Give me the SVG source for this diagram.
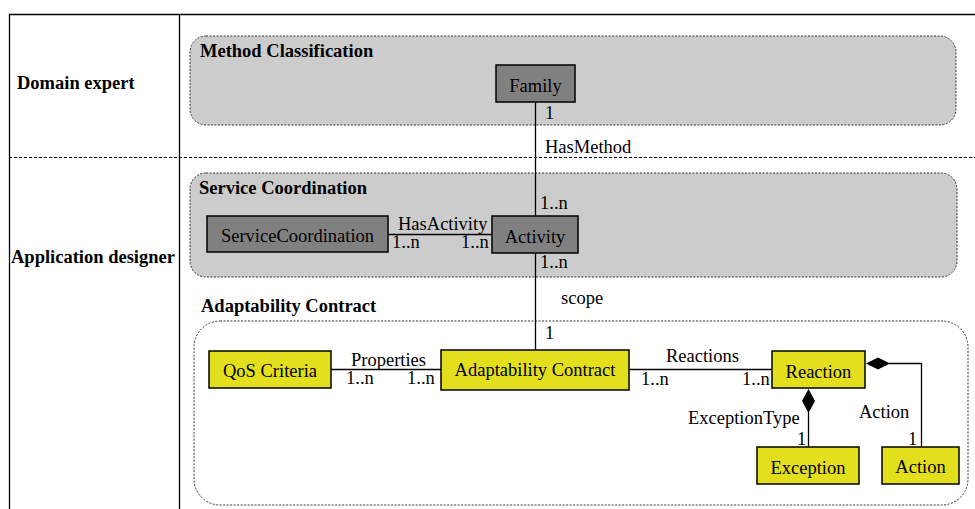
<svg xmlns="http://www.w3.org/2000/svg" width="975" height="509" viewBox="0 0 975 509" font-family="'Liberation Serif', 'DejaVu Serif', serif">
<style>
text{font-family:'Liberation Serif','DejaVu Serif',serif;fill:#000}
.t{font-size:18.5px}
.b{font-size:18.5px;font-weight:bold}
.n{font-size:18.5px;text-anchor:middle}
.pkg{fill:#cccccc;stroke:#333;stroke-width:1;stroke-dasharray:2,1.5}
.pkgw{fill:#fff;stroke:#333;stroke-width:1;stroke-dasharray:2,1.5}
.g{fill:#808080;stroke:#000;stroke-width:1.5}
.y{fill:#e3df1c;stroke:#000;stroke-width:1.5}
.ln{stroke:#000;stroke-width:1.3;fill:none}
</style>
<rect width="975" height="509" fill="#fff"/>
<g id="frame">
<line x1="9" y1="14.5" x2="975" y2="14.5" stroke="#000" stroke-width="1.3"/>
<line x1="9.5" y1="14" x2="9.5" y2="509" stroke="#000" stroke-width="1.3"/>
<line x1="179.5" y1="14" x2="179.5" y2="509" stroke="#000" stroke-width="1.3"/>
<line x1="9" y1="157.5" x2="975" y2="157.5" stroke="#000" stroke-width="1" stroke-dasharray="3,2"/>
<text class="b" x="17" y="89">Domain expert</text>
<text class="b" x="11" y="263">Application designer</text>
</g>
<g id="method-classification">
<rect class="pkg" x="190" y="36" width="766" height="89" rx="16"/>
<text class="b" x="200" y="57">Method Classification</text>
</g>
<g id="service-coordination">
<rect class="pkg" x="190" y="173" width="767" height="104" rx="16"/>
<text class="b" x="199" y="194">Service Coordination</text>
</g>
<g id="adaptability-contract-pkg">
<text class="b" x="201" y="312">Adaptability Contract</text>
<rect class="pkgw" x="194" y="321" width="774" height="184" rx="26"/>
</g>
<g id="connectors">
<line class="ln" x1="535.5" y1="102" x2="535.5" y2="216"/>
<line class="ln" x1="535.5" y1="253" x2="535.5" y2="350"/>
<line class="ln" x1="388" y1="234.5" x2="492" y2="234.5"/>
<line class="ln" x1="331" y1="369.5" x2="441" y2="369.5"/>
<line class="ln" x1="629" y1="369.5" x2="772" y2="369.5"/>
<line class="ln" x1="808.5" y1="412" x2="808.5" y2="447"/>
<polygon points="808.5,389 815,401 808.5,413 802,401" fill="#000"/>
<polyline class="ln" points="889,363.5 921.5,363.5 921.5,447"/>
<polygon points="866,363.5 878,357.5 890,363.5 878,369.5" fill="#000"/>
<text class="t" x="545" y="119">1</text>
<text class="t" x="545" y="153">HasMethod</text>
<text class="t" x="540" y="209">1..n</text>
<text class="t" x="540" y="268">1..n</text>
<text class="t" x="561" y="304">scope</text>
<text class="t" x="545" y="339">1</text>
<text class="t" x="398" y="229.5">HasActivity</text>
<text class="t" x="392" y="248">1..n</text>
<text class="t" x="461" y="248">1..n</text>
<text class="t" x="351" y="365.5">Properties</text>
<text class="t" x="346" y="384">1..n</text>
<text class="t" x="407" y="384">1..n</text>
<text class="t" x="666" y="362">Reactions</text>
<text class="t" x="641" y="385">1..n</text>
<text class="t" x="742" y="385">1..n</text>
<text class="t" x="688" y="424">ExceptionType</text>
<text class="t" x="797" y="445">1</text>
<text class="t" x="859" y="418">Action</text>
<text class="t" x="908" y="445">1</text>
</g>
<g id="family">
<rect class="g" x="496" y="65" width="79" height="37"/>
<text class="n" x="535.5" y="92">Family</text>
</g>
<g id="servicecoordination">
<rect class="g" x="207" y="216" width="181" height="36"/>
<text class="n" x="297.5" y="242">ServiceCoordination</text>
</g>
<g id="activity">
<rect class="g" x="492" y="216" width="86" height="37"/>
<text class="n" x="535" y="243">Activity</text>
</g>
<g id="qos-criteria">
<rect class="y" x="209" y="351" width="122" height="37"/>
<text class="n" x="270" y="377">QoS Criteria</text>
</g>
<g id="adaptability-contract">
<rect class="y" x="441" y="350" width="188" height="40"/>
<text class="n" x="535" y="376">Adaptability Contract</text>
</g>
<g id="reaction">
<rect class="y" x="772" y="351" width="93" height="37"/>
<text class="n" x="818.5" y="378">Reaction</text>
</g>
<g id="exception">
<rect class="y" x="757" y="447" width="102" height="37"/>
<text class="n" x="808" y="474">Exception</text>
</g>
<g id="action">
<rect class="y" x="882" y="447" width="77" height="37"/>
<text class="n" x="920.5" y="473">Action</text>
</g>
</svg>
